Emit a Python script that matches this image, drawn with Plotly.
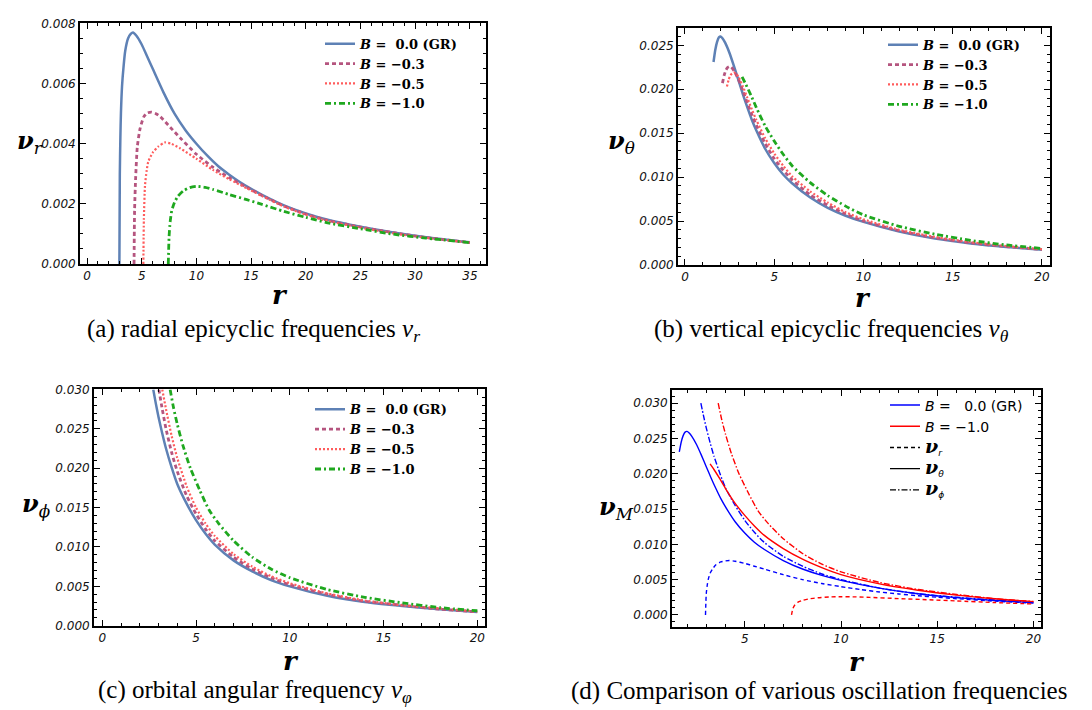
import plotly.graph_objects as go

# ---------------- data ----------------
# (a) radial epicyclic frequency nu_r
r_a_gr = [2.96, 3.0, 3.05, 3.1, 3.2, 3.35, 3.5, 3.75, 4.0, 4.2, 4.5, 5.0, 5.5, 6.0, 7.0, 8.0, 9.0, 10, 11, 12, 13, 14, 15, 16, 18, 20, 22, 25, 28, 31, 35]
v_a_gr = [0, 0.0030, 0.0042, 0.0050, 0.0059, 0.0066, 0.0071, 0.0075, 0.00765, 0.0077, 0.0076, 0.0073, 0.0069, 0.0065, 0.0057, 0.0050, 0.00445, 0.0040, 0.0036, 0.00325, 0.00297, 0.00272, 0.0025, 0.0023, 0.00195, 0.00168, 0.00147, 0.00124, 0.00105, 0.00089, 0.00072]
r_a_03 = [4.3, 4.35, 4.45, 4.6, 4.85, 5.2, 5.5, 5.9, 6.3, 6.7, 7.6, 8.5, 10, 11.5, 13, 14.6, 16, 18, 20, 22, 25, 28, 31, 35]
v_a_03 = [0, 0.0018, 0.0029, 0.0039, 0.0045, 0.0049, 0.00502, 0.00505, 0.0050, 0.0049, 0.00455, 0.0042, 0.00365, 0.00322, 0.00287, 0.00255, 0.00228, 0.00193, 0.00166, 0.00145, 0.00123, 0.00104, 0.00088, 0.00071]
r_a_05 = [5.15, 5.2, 5.3, 5.45, 5.6, 6.0, 6.5, 7.1, 7.7, 8.5, 10, 11.5, 13, 14.6, 16, 18, 20, 22, 25, 28, 31, 35]
v_a_05 = [0, 0.0015, 0.0026, 0.0031, 0.0034, 0.0037, 0.0039, 0.00404, 0.0040, 0.00385, 0.0035, 0.00313, 0.00282, 0.00252, 0.00226, 0.00191, 0.00164, 0.00143, 0.00121, 0.00102, 0.00087, 0.00071]
r_a_10 = [7.43, 7.5, 7.6, 7.75, 8.0, 8.3, 8.8, 9.4, 10.0, 10.8, 11.5, 13, 14.6, 16, 18, 20, 22, 25, 28, 31, 35]
v_a_10 = [0, 0.0009, 0.0014, 0.00178, 0.00205, 0.00225, 0.00243, 0.00254, 0.00258, 0.00255, 0.00248, 0.00231, 0.00214, 0.00198, 0.00175, 0.00155, 0.00137, 0.00117, 0.00099, 0.00086, 0.00071]

# (b) vertical epicyclic frequency nu_theta
r_b_gr = [1.6, 1.7, 1.8, 1.9, 2.0, 2.1, 2.25, 2.5, 2.75, 3.0, 3.25, 3.5, 3.75, 4.0, 4.5, 5.0, 5.5, 6.0, 7, 8, 9, 10, 12, 14, 16, 18, 20]
v_b_gr = [0.0231, 0.0245, 0.0254, 0.0259, 0.0260, 0.0258, 0.0253, 0.0241, 0.0226, 0.0210, 0.0194, 0.0179, 0.0165, 0.0153, 0.0132, 0.0116, 0.0103, 0.0093, 0.0077, 0.0065, 0.0056, 0.0049, 0.0038, 0.0030, 0.00245, 0.00205, 0.00174]
r_b_03 = [2.1, 2.2, 2.3, 2.4, 2.5, 2.6, 2.75, 3.0, 3.25, 3.5, 3.75, 4.0, 4.5, 5.0, 5.5, 6.0, 7, 8, 9, 10, 12, 14, 16, 18, 20]
v_b_03 = [0.0207, 0.0216, 0.0222, 0.0225, 0.0226, 0.0225, 0.0221, 0.0211, 0.0198, 0.0184, 0.0171, 0.0159, 0.0138, 0.0121, 0.0108, 0.0097, 0.0080, 0.0068, 0.0058, 0.0050, 0.0039, 0.0031, 0.00252, 0.0021, 0.00177]
r_b_05 = [2.35, 2.45, 2.55, 2.65, 2.75, 2.9, 3.0, 3.25, 3.5, 3.75, 4.0, 4.5, 5.0, 5.5, 6, 7, 8, 9, 10, 12, 14, 16, 18, 20]
v_b_05 = [0.0203, 0.0211, 0.0216, 0.0218, 0.0219, 0.0217, 0.0214, 0.0203, 0.0190, 0.0177, 0.0165, 0.0144, 0.0127, 0.0113, 0.0101, 0.0084, 0.0071, 0.0060, 0.0052, 0.0040, 0.0032, 0.0026, 0.00215, 0.00179]
r_b_10 = [3.2, 3.4, 3.7, 4.0, 4.5, 5, 5.5, 6, 7, 8, 9, 10, 12, 14, 16, 18, 20]
v_b_10 = [0.0214, 0.0206, 0.0193, 0.0179, 0.0158, 0.0141, 0.0126, 0.0113, 0.0094, 0.0079, 0.0067, 0.0057, 0.0044, 0.0035, 0.0028, 0.00228, 0.00188]

# (c) orbital angular frequency nu_phi
r_c_gr = [2.72, 2.85, 3.0, 3.2, 3.4, 3.7, 4.0, 4.5, 5, 5.5, 6, 7, 8, 9, 10, 12, 14, 16, 18, 20]
v_c_gr = [0.0300, 0.0283, 0.0265, 0.0244, 0.0225, 0.0201, 0.0180, 0.0155, 0.0134, 0.0117, 0.0103, 0.0083, 0.0069, 0.0058, 0.0050, 0.0038, 0.0030, 0.0025, 0.0021, 0.00175]
r_c_03 = [3.02, 3.2, 3.4, 3.7, 4.0, 4.5, 5, 5.5, 6, 7, 8, 9, 10, 12, 14, 16, 18, 20]
v_c_03 = [0.0300, 0.0275, 0.0250, 0.0220, 0.0196, 0.0165, 0.0142, 0.0123, 0.0108, 0.0087, 0.0072, 0.0061, 0.0052, 0.0040, 0.0031, 0.0026, 0.0021, 0.00177]
r_c_05 = [3.2, 3.4, 3.7, 4.0, 4.5, 5, 5.5, 6, 7, 8, 9, 10, 12, 14, 16, 18, 20]
v_c_05 = [0.0300, 0.0275, 0.0241, 0.0213, 0.0177, 0.0150, 0.0130, 0.0114, 0.0091, 0.0075, 0.0063, 0.0054, 0.0041, 0.0032, 0.0026, 0.0022, 0.00179]
r_c_10 = [3.62, 3.8, 4.0, 4.3, 4.7, 5.2, 5.7, 6.2, 7, 8, 9, 10, 12, 14, 16, 18, 20]
v_c_10 = [0.0300, 0.0277, 0.0256, 0.0229, 0.0200, 0.0172, 0.0147, 0.0130, 0.0108, 0.0087, 0.0072, 0.0061, 0.0046, 0.0036, 0.0029, 0.0023, 0.0019]

legend_names = ["<b><i>B</i> =  0.0 (GR)</b>", "<b><i>B</i> = \u22120.3</b>", "<b><i>B</i> = \u22120.5</b>", "<b><i>B</i> = \u22121.0</b>"]
captions = ["(a) radial epicyclic frequencies <i>\u03bd<sub>r</sub></i>",
            "(b) vertical epicyclic frequencies <i>\u03bd<sub>\u03b8</sub></i>",
            "(c) orbital angular frequency <i>\u03bd<sub>\u03c6</sub></i>",
            "(d) Comparison of various oscillation frequencies"]

# ---------------- styles ----------------
COLORS = ["#5E81B5", "#B5557F", "#FF5C5C", "#1FA81F"]
DASHES = ["solid", "4px,3px", "2px,2px", "6px,3px,2px,3px"]
WIDTHS = [2.5, 2.8, 2.2, 2.8]

fig = go.Figure()

panels = [
    ("x", "y", "legend", [(r_a_gr, v_a_gr), (r_a_03, v_a_03), (r_a_05, v_a_05), (r_a_10, v_a_10)]),
    ("x2", "y2", "legend2", [(r_b_gr, v_b_gr), (r_b_03, v_b_03), (r_b_05, v_b_05), (r_b_10, v_b_10)]),
    ("x3", "y3", "legend3", [(r_c_gr, v_c_gr), (r_c_03, v_c_03), (r_c_05, v_c_05), (r_c_10, v_c_10)]),
]
for xa, ya, lg, series in panels:
    for i, (rr, vv) in enumerate(series):
        fig.add_trace(go.Scatter(x=rr, y=vv, mode="lines", xaxis=xa, yaxis=ya, legend=lg,
                                 name=legend_names[i],
                                 line=dict(color=COLORS[i], width=WIDTHS[i], dash=DASHES[i], shape="spline", smoothing=0.6)))

# (d) comparison: GR (blue) and B=-1.0 (red), r <= 20
def clip20(rr, vv):
    pts = [(a, b) for a, b in zip(rr, vv) if a <= 20]
    return [p[0] for p in pts], [p[1] for p in pts]

d_series = [
    (r_a_gr, v_a_gr, "#0000FF", "4px,3px"),
    (r_b_gr, v_b_gr, "#0000FF", "solid"),
    (r_c_gr, v_c_gr, "#0000FF", "6px,2px,1.5px,2px"),
    (r_a_10, v_a_10, "#FF0000", "4px,3px"),
    (r_b_10, v_b_10, "#FF0000", "solid"),
    (r_c_10, v_c_10, "#FF0000", "6px,2px,1.5px,2px"),
]
for rr, vv, col, dsh in d_series:
    xr, yv = clip20(rr, vv)
    fig.add_trace(go.Scatter(x=xr, y=yv, mode="lines", xaxis="x4", yaxis="y4", showlegend=False,
                             line=dict(color=col, width=1.4, dash=dsh, shape="spline", smoothing=0.6)))

nu_span = "<span style='font-family:DejaVu Serif;font-size:19px'><b><i>\u03bd</i></b></span>"
def sub_span(s):
    return "<span style='font-size:13px'><sub><i>" + s + "</i></sub></span>"
d_legend = [
    ("#0000FF", "solid", "<i>B</i> =   0.0 (GR)"),
    ("#FF0000", "solid", "<i>B</i> = \u22121.0"),
    ("black", "4px,3px", nu_span + sub_span("r")),
    ("black", "solid", nu_span + sub_span("\u03b8")),
    ("black", "6px,2px,1.5px,2px", nu_span + sub_span("\u03d5")),
]
for col, dsh, nm in d_legend:
    fig.add_trace(go.Scatter(x=[None], y=[None], mode="lines", xaxis="x4", yaxis="y4", legend="legend4",
                             name=nm, line=dict(color=col, width=1.4, dash=dsh)))

# ---------------- axes ----------------
W, H = 1092, 710
def px_dom_x(a, b):
    return [a / W, b / W]
def px_dom_y(top, bottom):
    return [1 - bottom / H, 1 - top / H]

tickfont = dict(family="DejaVu Sans", size=12, color="#111", style="italic")
def ax(rng, dom, dtick, mdtick, fmt=None):
    d = dict(range=rng, domain=dom, showline=True, linecolor="black", linewidth=1.8, mirror="allticks",
             ticks="inside", ticklen=6, tickwidth=1.2, tickcolor="black", showgrid=False, zeroline=False,
             dtick=dtick, tick0=0, tickfont=tickfont,
             minor=dict(dtick=mdtick, tick0=0, ticks="inside", ticklen=3, tickwidth=1, tickcolor="black", showgrid=False))
    if fmt:
        d["tickformat"] = fmt
    return d

fig.update_layout(
    width=W, height=H, margin=dict(l=0, r=0, t=0, b=0),
    paper_bgcolor="white", plot_bgcolor="white",
    xaxis=dict(ax([-0.64, 36.47], px_dom_x(72, 478), 5, 1), anchor="y"),
    yaxis=dict(ax([0, 0.00802], px_dom_y(8, 254), 0.002, 0.0005, ".3f"), anchor="x"),
    xaxis2=dict(ax([-0.39, 20.45], px_dom_x(670, 1042), 5, 1), anchor="y2"),
    yaxis2=dict(ax([0, 0.0270], px_dom_y(13, 255), 0.005, 0.001, ".3f"), anchor="x2"),
    xaxis3=dict(ax([-0.44, 20.41], px_dom_x(86, 477), 5, 1), anchor="y3"),
    yaxis3=dict(ax([0, 0.0300], px_dom_y(382, 623), 0.005, 0.001, ".3f"), anchor="x3"),
    xaxis4=dict(ax([1.22, 20.39], px_dom_x(664, 1033), 5, 1), anchor="y4"),
    yaxis4=dict(ax([-0.00167, 0.0318], px_dom_y(383, 624), 0.005, 0.001, ".3f"), anchor="x4"),
)

leg_common = dict(xanchor="left", yanchor="top", bgcolor="rgba(0,0,0,0)", borderwidth=0,
                  font=dict(family="DejaVu Serif", size=13, color="black"), itemwidth=30, tracegroupgap=0)
fig.update_layout(
    legend=dict(leg_common, x=312 / W, y=1 - 14 / H),
    legend2=dict(leg_common, x=875 / W, y=1 - 15 / H),
    legend3=dict(leg_common, x=302 / W, y=1 - 387 / H),
    legend4=dict(leg_common, x=877 / W, y=1 - 382 / H,
                 font=dict(family="DejaVu Sans", size=14, color="black")),
)

# ---------------- annotations ----------------
ann = []
def text(x, y, s, size, family="DejaVu Serif", color="black"):
    ann.append(dict(x=x / W, y=1 - y / H, xref="paper", yref="paper", text=s, showarrow=False,
                    xanchor="center", yanchor="middle", font=dict(family=family, size=size, color=color)))

nu_lbl = "<b><i>\u03bd</i></b>"
text(22, 130, nu_lbl + "<sub><i>r</i></sub>", 24)
text(613, 130, nu_lbl + "<sub><i>\u03b8</i></sub>", 24)
text(28, 500, nu_lbl + "<sub><i>\u03d5</i></sub>", 24)
text(608, 503, nu_lbl + "<sub><i>M</i></sub>", 24)
for x, y in [(272, 286), (855, 289), (283, 659), (849, 660)]:
    text(x, y, "<b><i>r</i></b>", 26)
text(245, 322, captions[0], 25, "Liberation Serif")
text(823, 322, captions[1], 25, "Liberation Serif")
text(247, 690, captions[2], 25, "Liberation Serif")
text(811, 690, captions[3], 25, "Liberation Serif")
fig.update_layout(annotations=ann)

fig.write_html("out.html")
